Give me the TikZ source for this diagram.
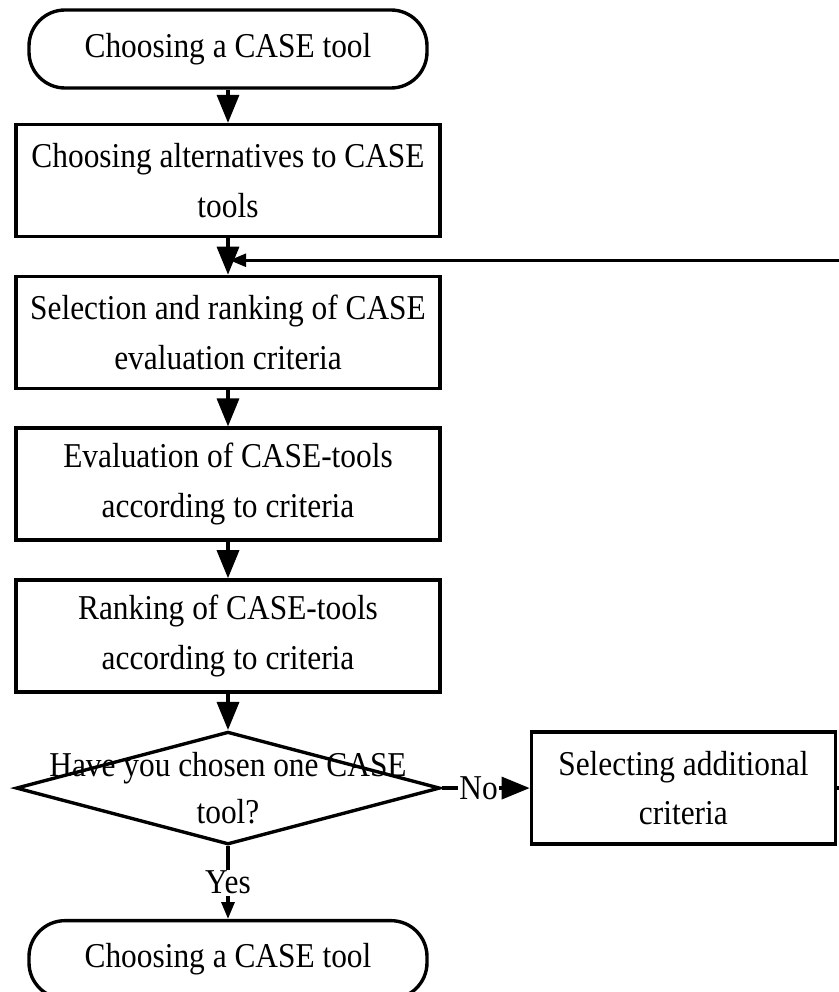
\documentclass[tikz,border=0pt]{standalone}
\usepackage{fontspec}
\setmainfont[FakeStretch=0.9]{Liberation Serif}
\usetikzlibrary{shapes.geometric, arrows.meta, positioning}

\begin{document}
\begin{tikzpicture}[
  node distance=0.91cm,
  every node/.style={font=\fontsize{24.8}{35.5}\selectfont},
  term/.style={rectangle, rounded corners=0.9cm, draw, line width=2.4pt,
               minimum width=9.95cm, minimum height=1.95cm, align=center},
  proc/.style={rectangle, draw, line width=2.4pt,
               minimum width=10.6cm, minimum height=2.8cm, align=center},
  decision/.style={diamond, draw, line width=2.4pt, inner sep=0pt,
                   minimum width=10.6cm, minimum height=2.82cm},
  arr/.style={-{Triangle[length=0.7cm, width=0.55cm]}, line width=2.4pt},
  arrsmall/.style={-{Triangle[length=0.42cm, width=0.32cm]}, line width=2.4pt},
]
\useasboundingbox (0,0) rectangle (20.95,-24.8);

% Main column
\node[term] (start) at (5.7,-1.225) {Choosing a CASE tool};
\node[proc, below=0.83cm of start] (alt)  {Choosing alternatives to CASE\\tools};
\node[proc, below=of alt]        (crit) {Selection and ranking of CASE\\evaluation criteria};
\node[proc, below=of crit]       (eval) {Evaluation of CASE-tools\\according to criteria};
\node[proc, below=of eval]       (rank) {Ranking of CASE-tools\\according to criteria};
\node[decision, below=of rank,
      label={[align=center, font=\fontsize{24.8}{34}\selectfont]center:Have you chosen one CASE\\tool?}] (chosen) {};
\node[term, below=1.82cm of chosen] (finish) {Choosing a CASE tool};

% Side branch
\node[proc, minimum width=7.6cm, right=2.2cm of chosen] (addcrit) {Selecting additional\\criteria};
\coordinate[below=0.55cm of alt] (join);

% Arrows
\draw[arr] (start)  -- (alt);
\draw[arr] (alt)    -- (crit);
\draw[arr] (crit)   -- (eval);
\draw[arr] (eval)   -- (rank);
\draw[arr] (rank)   -- (chosen);
\draw[arr] (chosen) -- node[pos=0.42, fill=white, inner sep=1pt] {No} (addcrit);
\draw[arrsmall] (chosen) -- node[fill=white, inner sep=1pt] {Yes} (finish);
\draw[arrsmall] (addcrit.east) -- ++(0.6,0) |- ([xshift=1pt]join);

\end{tikzpicture}
\end{document}
